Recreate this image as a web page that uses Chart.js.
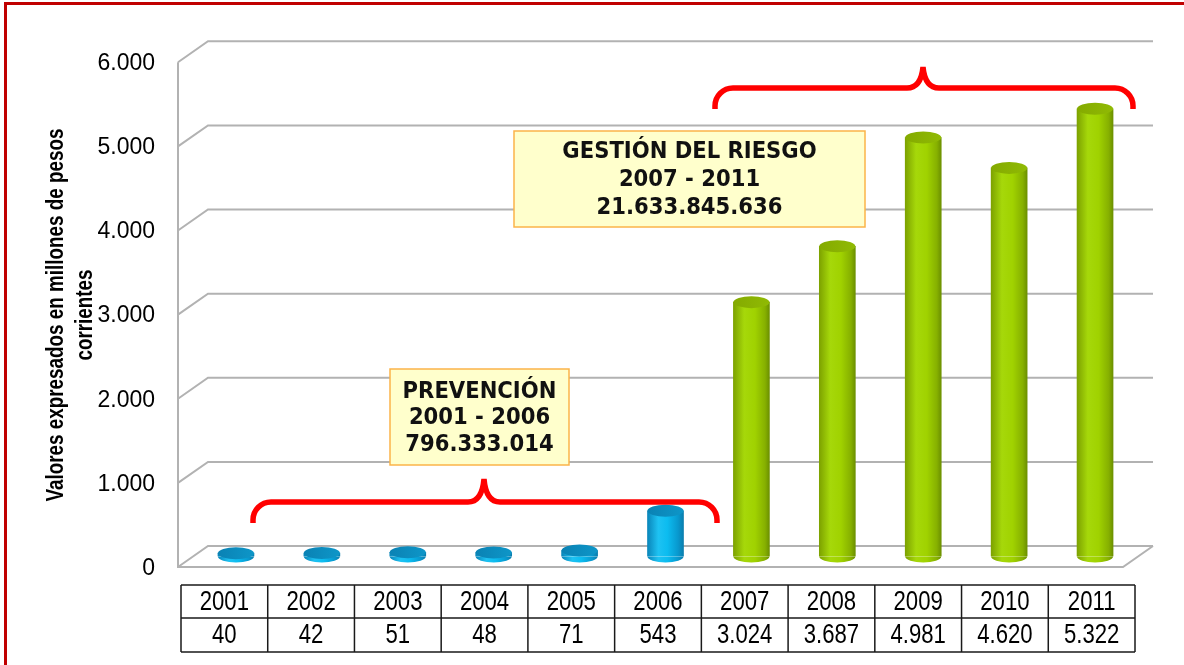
<!DOCTYPE html>
<html><head><meta charset="utf-8">
<script src="https://cdn.jsdelivr.net/npm/chart.js@4.4.1/dist/chart.umd.min.js"></script>
<style>
html,body{margin:0;padding:0;background:#fff;}
#wrap{position:relative;width:1184px;height:665px;overflow:hidden;background:#fff;}
#frame{position:absolute;left:4px;top:2px;width:1300px;height:800px;border-top:3px solid #C00000;border-left:3px solid #C00000;pointer-events:none;}
canvas{position:absolute;left:0;top:0;}
</style></head><body>
<div id="wrap"><canvas id="c" width="1184" height="665"></canvas><div id="frame"></div></div>
<script>
// ---- data ----
const years = ['2001','2002','2003','2004','2005','2006','2007','2008','2009','2010','2011'];
const values = [40, 42, 51, 48, 71, 543, 3024, 3687, 4981, 4620, 5322];
const phases = ['prev','prev','prev','prev','prev','prev','gest','gest','gest','gest','gest'];
const yTicks = [0, 1000, 2000, 3000, 4000, 5000, 6000];
const yTitle = ['Valores expresados en millones de pesos', 'corrientes'];
const prevBoxText = ['PREVENCIÓN', '2001 - 2006', '796.333.014'];
const gestBoxText = ['GESTIÓN DEL RIESGO', '2007 - 2011', '21.633.845.636'];

const SANS = "'Liberation Sans',Arial,sans-serif";
const COND = "'DejaVu Sans Condensed','DejaVu Sans',sans-serif";
const NARROW_X = 0.82;
const DX = 15, DY = 10.5;
const fmt = n => String(n).replace(/\B(?=(\d{3})+(?!\d))/g, '.');

function narrowText(ctx, s, x, y) {
  ctx.save(); ctx.translate(x, y); ctx.scale(NARROW_X, 1); ctx.fillText(s, 0, 0); ctx.restore();
}

function bodyGradient(ctx, x, w, phase) {
  const g = ctx.createLinearGradient(x - w / 2, 0, x + w / 2, 0);
  if (phase === 'prev') {
    g.addColorStop(0, '#0A86BA'); g.addColorStop(0.3, '#1EC2F2');
    g.addColorStop(0.55, '#0CBCF0'); g.addColorStop(0.85, '#0898CE'); g.addColorStop(1, '#0A7EAE');
  } else {
    g.addColorStop(0, '#7DA200'); g.addColorStop(0.3, '#A6D80A');
    g.addColorStop(0.6, '#A0D200'); g.addColorStop(0.88, '#86B000'); g.addColorStop(1, '#6C9000');
  }
  return g;
}

const wallPlugin = {
  id: 'wall',
  beforeDatasetsDraw(chart) {
    const ctx = chart.ctx, y = chart.scales.y, a = chart.chartArea;
    ctx.save();
    ctx.strokeStyle = '#B2B2B2'; ctx.lineWidth = 2;
    yTicks.forEach(v => {
      const ym = y.getPixelForValue(v);
      ctx.beginPath();
      ctx.moveTo(a.left - DX, ym + DY);
      ctx.lineTo(a.left + DX, ym - DY);
      ctx.lineTo(a.right + DX, ym - DY);
      ctx.stroke();
    });
    const y0 = y.getPixelForValue(0), yT = y.getPixelForValue(6000);
    ctx.beginPath();
    ctx.moveTo(a.left - DX, yT + DY); ctx.lineTo(a.left - DX, y0 + DY);
    ctx.lineTo(a.right - DX, y0 + DY); ctx.lineTo(a.right + DX, y0 - DY);
    ctx.stroke();
    ctx.restore();
  }
};

const cylPlugin = {
  id: 'cyl',
  afterDatasetsDraw(chart) {
    const ctx = chart.ctx, meta = chart.getDatasetMeta(0);
    ctx.save();
    meta.data.forEach((bar, i) => {
      const p = bar.getProps(['x', 'y', 'base', 'width'], true);
      const rx = p.width / 2, ry = 6;
      ctx.fillStyle = bodyGradient(ctx, p.x, p.width, phases[i]);
      ctx.beginPath(); ctx.ellipse(p.x, p.base, rx, ry, 0, 0, Math.PI); ctx.fill();
      const tg = ctx.createLinearGradient(p.x - rx, 0, p.x + rx, 0);
      if (phases[i] === 'prev') { tg.addColorStop(0, '#0A82B4'); tg.addColorStop(1, '#0E96C8'); }
      else { tg.addColorStop(0, '#84AA00'); tg.addColorStop(1, '#90BA04'); }
      ctx.fillStyle = tg;
      ctx.beginPath(); ctx.ellipse(p.x, p.y, rx, ry, 0, 0, Math.PI * 2); ctx.fill();
    });
    ctx.restore();
  }
};

function drawBrace(ctx, x1, x2, xTip, yEnd, yMid, yTip) {
  const r = 18, c = 16;
  ctx.beginPath();
  ctx.moveTo(x1, yEnd);
  ctx.arcTo(x1, yMid, x1 + r, yMid, r);
  ctx.lineTo(xTip - c, yMid);
  ctx.quadraticCurveTo(xTip - 2, yMid, xTip, yTip);
  ctx.quadraticCurveTo(xTip + 2, yMid, xTip + c, yMid);
  ctx.lineTo(x2 - r, yMid);
  ctx.arcTo(x2, yMid, x2, yEnd, r);
  ctx.lineTo(x2, yEnd);
  ctx.stroke();
}

function drawBox(ctx, l, t, r, b, lines, lineGap) {
  ctx.fillStyle = '#FFFFCC'; ctx.strokeStyle = '#FBB449'; ctx.lineWidth = 1.5;
  ctx.fillRect(l, t, r - l, b - t); ctx.strokeRect(l, t, r - l, b - t);
  ctx.fillStyle = '#111'; ctx.font = 'bold 23.5px ' + COND;
  ctx.textAlign = 'center'; ctx.textBaseline = 'middle';
  const cx = (l + r) / 2, cy = (t + b) / 2;
  lines.forEach((s, i) => ctx.fillText(s, cx, cy + (i - 1) * lineGap + 1));
}

const decoPlugin = {
  id: 'deco',
  afterDraw(chart) {
    const ctx = chart.ctx, a = chart.chartArea, y = chart.scales.y;
    ctx.save();
    // braces
    ctx.strokeStyle = '#FF0000'; ctx.lineWidth = 5.5; ctx.lineCap = 'butt';
    drawBrace(ctx, 253, 717, 484, 523, 502, 479);
    drawBrace(ctx, 715, 1133, 923, 109, 88, 67);
    // boxes
    drawBox(ctx, 390, 369, 569, 465, prevBoxText, 26.5);
    drawBox(ctx, 514, 131, 865, 227, gestBoxText, 28);
    // y title (narrow bold)
    ctx.fillStyle = '#000'; ctx.font = 'bold 23px ' + SANS;
    ctx.textAlign = 'center'; ctx.textBaseline = 'alphabetic';
    [[63, yTitle[0]], [92, yTitle[1]]].forEach(([bx, s]) => {
      ctx.save(); ctx.translate(bx, 315); ctx.rotate(-Math.PI / 2); ctx.scale(NARROW_X, 1); ctx.fillText(s, 0, 0); ctx.restore();
    });
    // data table
    const tl = a.left - 12, tr = a.right - 3;
    const y0 = y.getPixelForValue(0);
    const tt = y0 + 28.5, tm = tt + 33, tb = tt + 67;
    const cw = (tr - tl) / years.length;
    ctx.strokeStyle = '#1a1a1a'; ctx.lineWidth = 1.5;
    ctx.beginPath();
    [tt, tm, tb].forEach(yy => { ctx.moveTo(tl, yy); ctx.lineTo(tr, yy); });
    for (let i = 0; i <= years.length; i++) { ctx.moveTo(tl + i * cw, tt); ctx.lineTo(tl + i * cw, tb); }
    ctx.stroke();
    ctx.fillStyle = '#000'; ctx.font = '27px ' + SANS; ctx.textBaseline = 'middle'; ctx.textAlign = 'center';
    years.forEach((yr, i) => {
      const cx = tl + (i + 0.5) * cw;
      narrowText(ctx, yr, cx, (tt + tm) / 2 + 1);
      narrowText(ctx, fmt(values[i]), cx, (tm + tb) / 2 + 1);
    });
    ctx.restore();
  }
};

new Chart(document.getElementById('c'), {
  type: 'bar',
  data: {
    labels: years,
    datasets: [{
      data: values,
      borderWidth: 0,
      barThickness: 36,
      backgroundColor: (c) => {
        const ch = c.chart, sx = ch.scales && ch.scales.x;
        if (!sx || !ch.chartArea) return phases[c.dataIndex] === 'prev' ? '#0CBCF0' : '#A0D200';
        const px = sx.getPixelForValue(c.dataIndex);
        return bodyGradient(ch.ctx, px, 36, phases[c.dataIndex]);
      }
    }]
  },
  options: {
    responsive: false, animation: false, events: [],
    layout: { padding: { left: 0, top: 43.5, right: 46, bottom: 108.5 } },
    plugins: { legend: { display: false }, tooltip: { enabled: false }, title: { display: false } },
    scales: {
      x: { display: false },
      y: {
        min: 0, max: 6000,
        afterFit: (s) => { s.width = 193; },
        afterBuildTicks: (s) => { s.ticks = yTicks.map(v => ({ value: v })); },
        ticks: { stepSize: 1000, padding: 38, labelOffset: 12, color: '#000',
                 font: { family: SANS, size: 23 }, callback: (v) => fmt(v) },
        grid: { display: false, drawTicks: false },
        border: { display: false }
      }
    }
  },
  plugins: [wallPlugin, cylPlugin, decoPlugin]
});
</script>
</body></html>
